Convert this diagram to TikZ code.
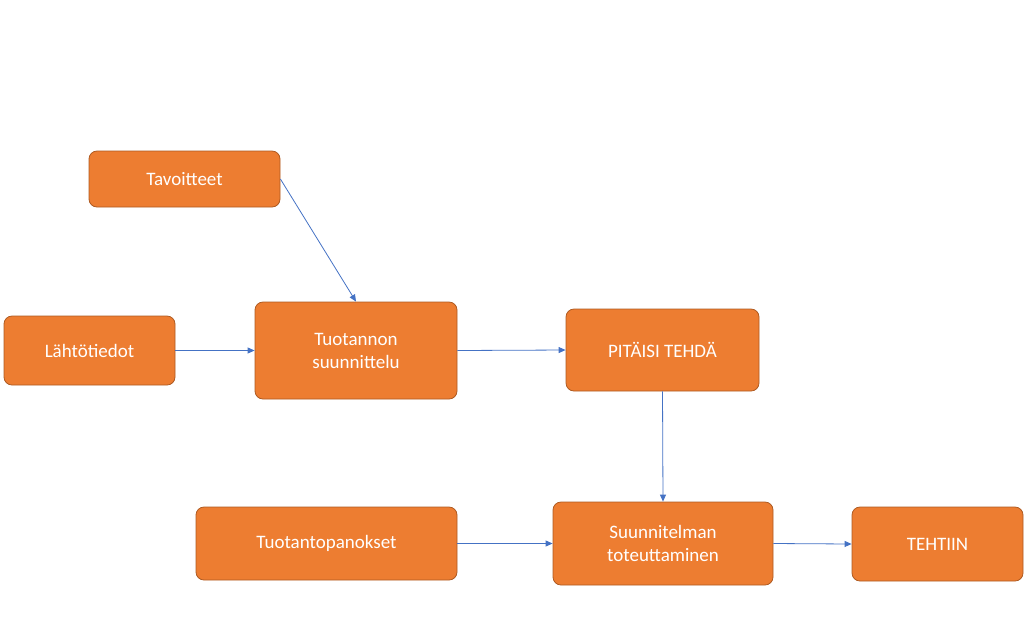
\documentclass[tikz,border=0pt]{standalone}
\usepackage{fontspec}
\setmainfont{Carlito}
\usetikzlibrary{arrows.meta}
\definecolor{og}{HTML}{ED7D31}
\definecolor{ogd}{HTML}{AE5A21}
\definecolor{bl}{HTML}{4472C4}
\tikzset{box/.style={draw=ogd,fill=og,rounded corners=8pt,text=white,font=\fontsize{19}{23}\selectfont,align=center,inner sep=0pt,line width=0.8pt},
conn/.style={draw=bl,line width=0.8pt,-{Triangle[length=7pt,width=6pt]}}}
\begin{document}
\begin{tikzpicture}[x=1pt,y=-1pt]
\useasboundingbox (0,0) rectangle (1024,641);
\node[box,minimum width=191,minimum height=56] (tav) at (184.5,179) {Tavoitteet};
\node[box,minimum width=171,minimum height=69] (lah) at (89.5,350.5) {Lähtötiedot};
\node[box,minimum width=202,minimum height=97] (tuo) at (356,350.5) {Tuotannon\\suunnittelu};
\node[box,minimum width=193,minimum height=82] (pit) at (662.5,350) {PITÄISI TEHDÄ};
\node[box,minimum width=261,minimum height=73] (pan) at (326.5,543.5) {Tuotantopanokset};
\node[box,minimum width=220,minimum height=83] (suu) at (663,543.5) {Suunnitelman\\toteuttaminen};
\node[box,minimum width=171,minimum height=74] (teh) at (937.5,544) {TEHTIIN};
\draw[conn] (tav.east) -- (tuo.north);
\draw[conn] (lah.east) -- (tuo.west);
\draw[conn] (tuo.east) -- (pit.west);
\draw[conn] (pit.south) -- (suu.north);
\draw[conn] (pan.east) -- (suu.west);
\draw[conn] (suu.east) -- (teh.west);
\end{tikzpicture}
\end{document}
